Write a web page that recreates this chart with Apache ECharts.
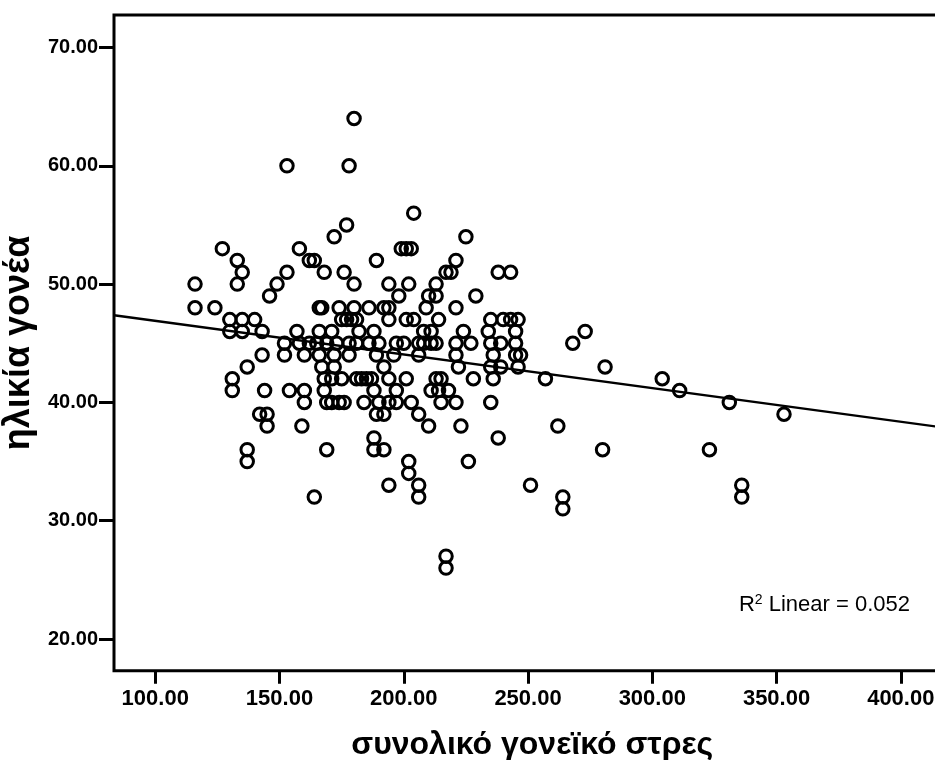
<!DOCTYPE html>
<html>
<head>
<meta charset="utf-8">
<script src="https://cdn.jsdelivr.net/npm/echarts@6/dist/echarts.min.js"></script>
<style>html,body{margin:0;padding:0;background:#fff}#c{width:935px;height:760px}</style>
</head>
<body>
<div id="c"></div>
<script>
// x: συνολικό γονεϊκό στρες, y: ηλικία γονέα
const stressScores = [
180,153,178,204,177,172,225,127,158,199,201,203,133,162,164,189,221,
135,153,168,176,217,219,238,243,116,133,149,180,194,202,213,146,198,210,213,229,
116,124,166,167,174,180,186,192,194,209,221,
130,135,140,175,177,179,181,194,201,204,214,235,240,243,246,
130,135,143,157,166,171,182,188,208,211,224,234,245,273,
152,158,162,165,169,173,178,181,186,190,197,200,206,208,211,213,221,227,235,239,245,268,
143,152,160,166,172,178,189,196,206,221,236,245,247,
137,167,172,192,222,235,239,246,281,
131,168,171,175,181,183,185,187,194,201,213,215,228,236,257,304,
131,144,154,160,168,188,197,211,214,218,311,
160,169,171,174,176,184,190,194,197,203,215,221,235,331,
142,145,189,192,206,353,
145,159,210,223,262,
188,238,
137,169,188,192,280,323,
137,202,226,
202,
194,206,251,336,
164,206,264,336,
264,
217,217
];
const parentAges = [
64,60,60,56,55,54,54,53,53,53,53,53,52,52,52,52,52,
51,51,51,51,51,51,51,51,50,50,50,50,50,50,50,49,49,49,49,49,
48,48,48,48,48,48,48,48,48,48,48,
47,47,47,47,47,47,47,47,47,47,47,47,47,47,47,
46,46,46,46,46,46,46,46,46,46,46,46,46,46,
45,45,45,45,45,45,45,45,45,45,45,45,45,45,45,45,45,45,45,45,45,45,
44,44,44,44,44,44,44,44,44,44,44,44,44,
43,43,43,43,43,43,43,43,43,
42,42,42,42,42,42,42,42,42,42,42,42,42,42,42,42,
41,41,41,41,41,41,41,41,41,41,41,
40,40,40,40,40,40,40,40,40,40,40,40,40,40,
39,39,39,39,39,39,
38,38,38,38,38,
37,37,
36,36,36,36,36,36,
35,35,35,
34,
33,33,33,33,
32,32,32,32,
31,
27,26
];
const xTicks = [100, 150, 200, 250, 300, 350, 400];
const yTicks = [20, 30, 40, 50, 60, 70];
const fitIntercept = 49.74;
const fitSlope = -0.02843;
const rSquaredText = '0.052';
const xTitle = 'συνολικό γονεϊκό στρες';
const yTitle = 'ηλικία γονέα';

const xMin = 83.4, xMax = 420, yMin = 17.32, yMax = 72.75;
const points = stressScores.map((x, i) => [x, parentAges[i]]);
const fitLine = [xMin, xMax].map(x => [x, fitIntercept + fitSlope * x]);

const font = "'Liberation Sans',Arial,sans-serif";
const chart = echarts.init(document.getElementById('c'), null, {renderer: 'canvas'});
chart.setOption({
  animation: false,
  backgroundColor: '#ffffff',
  grid: {left: 114, right: -15.5, top: 15, bottom: 89.3, outerBoundsMode: 'none', containLabel: false,
         show: true, borderColor: '#000', borderWidth: 3, backgroundColor: 'transparent'},
  xAxis: {
    type: 'value', min: xMin, max: xMax,
    name: xTitle, nameLocation: 'middle', nameGap: 58,
    nameTextStyle: {fontFamily: font, fontWeight: 'bold', fontSize: 32, color: '#000'},
    axisLine: {show: false},
    splitLine: {show: false},
    axisTick: {show: true, length: 13, lineStyle: {color: '#000', width: 3}, customValues: xTicks},
    axisLabel: {customValues: xTicks, margin: 17, color: '#000', fontFamily: font, fontWeight: 'bold', fontSize: 22, formatter: v => v.toFixed(2)}
  },
  yAxis: {
    type: 'value', min: yMin, max: yMax,
    name: yTitle, nameLocation: 'middle', nameGap: 72, nameRotate: 90,
    nameTextStyle: {fontFamily: font, fontWeight: 'bold', fontSize: 36, color: '#000'},
    axisLine: {show: false},
    splitLine: {show: false},
    axisTick: {show: true, length: 15, lineStyle: {color: '#000', width: 3}, customValues: yTicks},
    axisLabel: {customValues: yTicks, margin: 16, color: '#000', fontFamily: font, fontWeight: 'bold', fontSize: 20, formatter: v => v.toFixed(2)}
  },
  series: [
    {
      type: 'scatter', data: points, symbol: 'circle', symbolSize: 12.5,
      itemStyle: {color: 'rgba(0,0,0,0)', borderColor: '#000', borderWidth: 3, opacity: 1},
      z: 3
    },
    {
      type: 'line', data: fitLine, showSymbol: false, symbol: 'none',
      lineStyle: {color: '#000', width: 2.4}, z: 2
    }
  ],
  graphic: [{
    type: 'text', right: 25, top: 593,
    style: {
      text: '{r|R}{s|2}{r| Linear = ' + rSquaredText + '}',
      rich: {
        r: {fontFamily: font, fontSize: 22, fill: '#000', verticalAlign: 'bottom'},
        s: {fontFamily: font, fontSize: 14, fill: '#000', verticalAlign: 'top', padding: [0, 0, 9, 0]}
      }
    }
  }]
});
</script>
</body>
</html>
